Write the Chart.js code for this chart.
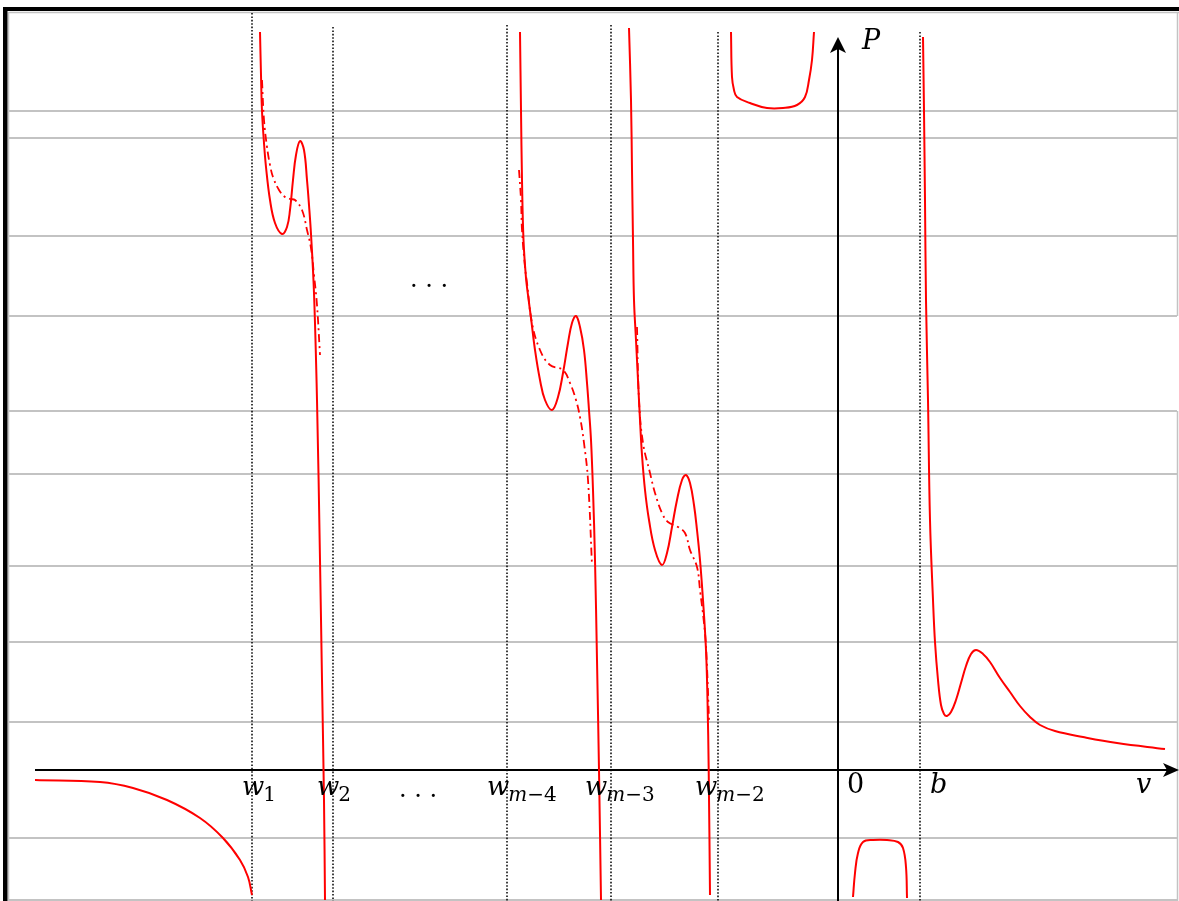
<!DOCTYPE html>
<html>
<head>
<meta charset="utf-8">
<script src="https://cdn.jsdelivr.net/npm/chart.js@4.4.0/dist/chart.umd.min.js"></script>
<style>
html,body{margin:0;padding:0;background:#fff;overflow:hidden}
#wrap{width:1179px;height:901px;position:relative}
</style>
</head>
<body>
<div id="wrap"><canvas id="c"></canvas></div>
<script>
// ---------- DATA (v on horizontal axis, P on vertical axis) ----------
const leftTailV = [-8.03,-7.38,-7.05,-6.71,-6.38,-6.15,-5.98,-5.90,-5.86];
const leftTailP = [-0.10,-0.12,-0.18,-0.30,-0.48,-0.68,-0.90,-1.07,-1.25];

const branch1V = [-5.78,-5.77,-5.76,-5.74,-5.72,-5.68,-5.63,-5.56,-5.51,-5.48,-5.45,-5.42,-5.38,-5.34,-5.31,-5.29,-5.27,-5.24,-5.21,-5.18,-5.16,-5.14,-5.13];
const branch1P = [7.38,6.95,6.59,6.27,6.03,5.70,5.47,5.36,5.43,5.60,5.90,6.15,6.29,6.20,5.90,5.65,5.36,4.77,3.70,2.10,0.90,-0.30,-1.30];
const dash1V = [-5.76,-5.74,-5.71,-5.68,-5.65,-5.59,-5.53,-5.48,-5.43,-5.36,-5.31,-5.27,-5.24,-5.21,-5.18];
const dash1P = [6.90,6.50,6.23,6.05,5.93,5.80,5.73,5.71,5.70,5.60,5.40,5.22,4.95,4.65,4.15];

const branch2V = [-3.18,-3.17,-3.16,-3.145,-3.12,-3.10,-3.07,-3.03,-2.98,-2.93,-2.86,-2.80,-2.75,-2.70,-2.66,-2.62,-2.58,-2.54,-2.51,-2.49,-2.47,-2.45,-2.43,-2.41,-2.39,-2.37];
const branch2P = [7.38,6.60,5.90,5.30,4.92,4.75,4.52,4.20,3.90,3.70,3.60,3.73,3.97,4.27,4.47,4.54,4.43,4.20,3.87,3.60,3.30,2.80,2.10,1.10,0.00,-1.30];
const dash2V = [-3.19,-3.17,-3.16,-3.13,-3.11,-3.06,-2.98,-2.88,-2.75,-2.68,-2.62,-2.58,-2.54,-2.50,-2.46];
const dash2P = [6.00,5.70,5.40,5.03,4.87,4.47,4.20,4.05,4.00,3.87,3.70,3.53,3.27,2.90,2.05];

const branch3V = [-2.09,-2.07,-2.06,-2.05,-2.04,-2.02,-2.00,-1.98,-1.96,-1.93,-1.89,-1.83,-1.76,-1.71,-1.66,-1.61,-1.56,-1.52,-1.48,-1.44,-1.41,-1.38,-1.35,-1.32,-1.305,-1.293,-1.28];
const branch3P = [7.42,6.70,6.00,5.30,4.70,4.30,3.90,3.50,3.15,2.80,2.50,2.20,2.05,2.17,2.43,2.70,2.90,2.95,2.87,2.65,2.40,2.10,1.70,1.20,0.70,0.00,-1.25];
const dash3V = [-2.01,-1.99,-1.95,-1.88,-1.83,-1.76,-1.70,-1.60,-1.53,-1.48,-1.41,-1.38,-1.33,-1.31,-1.29];
const dash3P = [4.43,3.70,3.27,2.97,2.77,2.57,2.48,2.43,2.37,2.20,2.03,1.80,1.37,1.03,0.50];

const upperCapV = [-1.07,-1.06,-1.04,-1.01,-0.88,-0.71,-0.55,-0.41,-0.33,-0.29,-0.26,-0.24];
const upperCapP = [7.38,6.93,6.80,6.73,6.67,6.62,6.62,6.65,6.73,6.90,7.10,7.38];

const lowerCapV = [0.15,0.17,0.20,0.25,0.35,0.49,0.60,0.65,0.68,0.69];
const lowerCapP = [-1.27,-1.03,-0.83,-0.72,-0.70,-0.70,-0.72,-0.78,-0.97,-1.28];

const rightV = [0.85,0.86,0.87,0.88,0.90,0.92,0.95,0.97,1.00,1.03,1.06,1.09,1.13,1.18,1.23,1.28,1.33,1.38,1.45,1.52,1.62,1.72,1.82,1.92,2.02,2.17,2.45,2.79,3.27];
const rightP = [7.33,6.59,5.70,4.70,3.70,2.50,1.70,1.28,0.90,0.65,0.56,0.54,0.58,0.70,0.87,1.04,1.16,1.20,1.16,1.08,0.92,0.78,0.64,0.53,0.45,0.39,0.33,0.27,0.21];

// vertical asymptotes w1, w2, w_{m-4}, w_{m-3}, w_{m-2}, b
const asymV   = [-5.86,-5.05,-3.31,-2.27,-1.20,0.82];
const asymTop = [7.57,7.43,7.45,7.45,7.38,7.38];

// horizontal grey rules
const ruleP = [6.59,6.32,5.34,4.54,3.59,2.96,2.04,1.28,0.48,-0.68,-1.30];

// tick labels
const tickBase = ['w','w','w','w','w'];
const tickSub  = ['1','2','m\u22124','m\u22123','m\u22122'];
const otherLabels = ['0','b','v','P','. . .','. . .'];

// ---------- LAYOUT ----------
const VIEW = {vmin:-8.38, vmax:3.41, pmin:-1.31, pmax:7.70};
const tickLabelV = [-5.96,-5.21,-3.51,-2.53,-1.43];
const tickBaseP = -0.25, tickSubP = -0.31;
const otherPos = [[0.09,-0.23,false],[0.92,-0.23,true],[2.98,-0.23,true],[0.24,7.21,true],[-4.39,-0.27,false],[-4.28,4.83,false]];
const axis = {vFrom:-8.03, vTo:3.41, pFrom:-1.31, pTo:7.33};
const FONT = '"DejaVu Serif"';

const zip = (a,b)=>a.map((x,i)=>({x:x,y:b[i]}));
const solid = (V,P)=>({data:zip(V,P),borderColor:'#ff0000',borderWidth:2,pointRadius:0,fill:false,tension:0.4});
const dashd = (V,P)=>({data:zip(V,P),borderColor:'#ff0000',borderWidth:1.8,borderDash:[8,4,2,4],pointRadius:0,fill:false,tension:0.4});

const datasets = [
  solid(leftTailV,leftTailP),
  solid(branch1V,branch1P), dashd(dash1V,dash1P),
  solid(branch2V,branch2P), dashd(dash2V,dash2P),
  solid(branch3V,branch3P), dashd(dash3V,dash3P),
  solid(upperCapV,upperCapP),
  solid(lowerCapV,lowerCapP),
  solid(rightV,rightP)
];
asymV.forEach((v,i)=>{
  datasets.push({data:[{x:v,y:asymTop[i]},{x:v,y:VIEW.pmin}],borderColor:'#000',borderWidth:1.5,borderDash:[1.6,1.8],pointRadius:0,fill:false});
});

const decor = {
  id:'decor',
  beforeDraw(chart){
    const c = chart.ctx;
    c.save(); c.fillStyle='#fff'; c.fillRect(0,0,chart.width,chart.height); c.restore();
  },
  beforeDatasetsDraw(chart){
    const c = chart.ctx, xs = chart.scales.x, ys = chart.scales.y;
    c.save();
    c.strokeStyle = '#c3c3c3'; c.lineWidth = 2;
    ruleP.forEach(p=>{
      const y = Math.round(ys.getPixelForValue(p));
      c.beginPath(); c.moveTo(8,y); c.lineTo(1177,y); c.stroke();
    });
    c.lineWidth = 1.5;
    c.beginPath(); c.moveTo(8.5,12); c.lineTo(8.5,901); c.stroke();
    c.beginPath(); c.moveTo(8,12.5); c.lineTo(1179,12.5); c.stroke();
    c.beginPath(); c.moveTo(1177.5,12); c.lineTo(1177.5,316); c.moveTo(1177.5,411); c.lineTo(1177.5,901); c.stroke();
    // axes
    c.strokeStyle = '#000'; c.fillStyle = '#000'; c.lineWidth = 2;
    const y0 = ys.getPixelForValue(0), x0 = xs.getPixelForValue(0);
    const xa = xs.getPixelForValue(axis.vFrom), xb = xs.getPixelForValue(axis.vTo);
    c.beginPath(); c.moveTo(xa,y0); c.lineTo(xb-10,y0); c.stroke();
    c.beginPath(); c.moveTo(xb,y0); c.lineTo(xb-16,y0-7); c.lineTo(xb-12,y0); c.lineTo(xb-16,y0+7); c.closePath(); c.fill();
    const ya = ys.getPixelForValue(axis.pFrom), yb = ys.getPixelForValue(axis.pTo);
    c.beginPath(); c.moveTo(x0,ya); c.lineTo(x0,yb+10); c.stroke();
    c.beginPath(); c.moveTo(x0,yb); c.lineTo(x0-8,yb+16); c.lineTo(x0,yb+12); c.lineTo(x0+8,yb+16); c.closePath(); c.fill();
    c.restore();
  },
  afterDatasetsDraw(chart){
    const c = chart.ctx, xs = chart.scales.x, ys = chart.scales.y;
    c.save();
    c.fillStyle = '#000'; c.textBaseline = 'alphabetic'; c.textAlign = 'left';
    tickBase.forEach((t,i)=>{
      const x = xs.getPixelForValue(tickLabelV[i]);
      c.font = 'italic 26px ' + FONT;
      c.fillText(t, x, ys.getPixelForValue(tickBaseP));
      let cx = x + c.measureText(t).width - 1;
      for (const ch of tickSub[i]){
        c.font = (/[a-z]/.test(ch) ? 'italic ' : '') + '20px ' + FONT;
        c.fillText(ch, cx, ys.getPixelForValue(tickSubP));
        cx += c.measureText(ch).width;
      }
    });
    otherLabels.forEach((t,i)=>{
      const [v,p,it] = otherPos[i];
      c.font = (it?'italic ':'') + (t.startsWith('.') ? '24px ' : '27px ') + FONT;
      c.fillText(t, xs.getPixelForValue(v), ys.getPixelForValue(p));
    });
    c.restore();
  },
  afterDraw(chart){
    const c = chart.ctx;
    c.save(); c.fillStyle = '#000';
    c.fillRect(3,7,4.5,901);
    c.fillRect(3,7,1179,4);
    c.restore();
  }
};

new Chart(document.getElementById('c'), {
  type:'line',
  data:{datasets:datasets},
  options:{
    responsive:true, maintainAspectRatio:false, animation:false, events:[],
    layout:{padding:0},
    plugins:{legend:{display:false}, tooltip:{enabled:false}},
    scales:{
      x:{type:'linear', min:VIEW.vmin, max:VIEW.vmax, display:false},
      y:{type:'linear', min:VIEW.pmin, max:VIEW.pmax, display:false}
    }
  },
  plugins:[decor]
});
</script>
</body>
</html>
